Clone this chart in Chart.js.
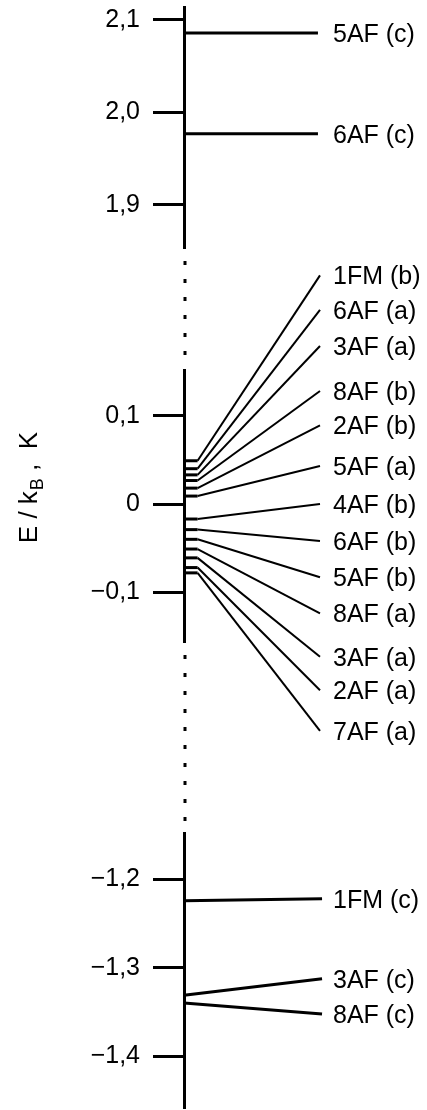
<!DOCTYPE html>
<html>
<head>
<meta charset="utf-8">
<script src="https://cdn.jsdelivr.net/npm/chart.js@4/dist/chart.umd.min.js"></script>
<style>
  body { margin: 0; background: #fff; }
  #wrap { position: relative; width: 427px; height: 1110px; }
</style>
</head>
<body>
<div id="wrap"><canvas id="chart"></canvas></div>
<script>
// energy levels E/kB (K): value at the axis and value at the label end
const topNames = ['5AF (c)', '6AF (c)'];
const topLeft = [2.086, 1.977];
const topRight = [2.086, 1.977];
const topTicks = [2.1, 2.0, 1.9];

const midNames = ['1FM (b)', '6AF (a)', '3AF (a)', '8AF (b)', '2AF (b)', '5AF (a)', '4AF (b)',
  '6AF (b)', '5AF (b)', '8AF (a)', '3AF (a)', '2AF (a)', '7AF (a)'];
const midLeft = [0.049, 0.040, 0.033, 0.0266, 0.018, 0.009, -0.017,
  -0.029, -0.040, -0.051, -0.061, -0.072, -0.078];
const midRight = [0.259, 0.220, 0.179, 0.128, 0.089, 0.043, 0.0,
  -0.042, -0.083, -0.124, -0.173, -0.211, -0.257];
const midTicks = [0.1, 0, -0.1];

const botNames = ['1FM (c)', '3AF (c)', '8AF (c)'];
const botLeft = [-1.2242, -1.3309, -1.3397];
const botRight = [-1.2219, -1.3124, -1.3521];
const botTicks = [-1.2, -1.3, -1.4];

// shown part of each axis piece
const topRange = [1.8535, 2.114];
const midRange = [-0.1563, 0.1518];
const botRange = [-1.4584, -1.1477];

const FONT = '"Liberation Sans", Arial, Helvetica, sans-serif';

function fmt(v) {
  if (v === 0) return '0';
  return v.toFixed(1).replace('.', ',').replace('-', '\u2212');
}

function line(name, pts, axis, width) {
  return {
    label: name,
    data: pts,
    yAxisID: axis,
    borderColor: '#000',
    borderWidth: width,
    borderCapStyle: 'butt',
    pointRadius: 0,
    tension: 0,
    clip: false
  };
}

const datasets = [];
topNames.forEach((n, i) => {
  datasets.push(line(n, [{ x: 0, y: topLeft[i] }, { x: 0.985, y: topRight[i] }], 'yTop', 3));
});
midNames.forEach((n, i) => {
  const ds = line(n, [{ x: 0, y: midLeft[i] }, { x: 0.1, y: midLeft[i] }, { x: 1, y: midRight[i] }], 'yMid', 2);
  ds.segment = { borderWidth: c => (c.p0DataIndex === 0 ? 3 : 2) };
  datasets.push(ds);
});
botNames.forEach((n, i) => {
  datasets.push(line(n, [{ x: 0, y: botLeft[i] }, { x: 1.015, y: botRight[i] }], 'yBot', 3));
});

function axisPiece(range, ticks, weight, order) {
  return {
    type: 'linear',
    position: 'left',
    stack: 'e',
    stackWeight: weight,
    weight: order,
    min: range[0],
    max: range[1],
    afterBuildTicks: s => { s.ticks = ticks.map(v => ({ value: v })); },
    afterFit: s => {
      s.width = 184;
      s.paddingTop = 0;
      s.paddingBottom = 0;
    },
    border: { display: true, color: '#000', width: 3 },
    grid: {
      display: true,
      drawOnChartArea: false,
      drawTicks: true,
      tickLength: 31,
      tickWidth: 3,
      tickColor: '#000'
    },
    ticks: {
      color: '#000',
      padding: 13,
      font: { family: FONT, size: 25 },
      callback: v => fmt(v)
    }
  };
}

function gapPiece(weight, order) {
  return { type: 'linear', position: 'left', stack: 'e', stackWeight: weight, weight: order, display: false };
}

// dotted breaks between the axis pieces
const breakDots = {
  id: 'breakDots',
  afterDraw(chart) {
    const ctx = chart.ctx;
    const x = chart.chartArea.left + 1;
    ctx.save();
    ctx.fillStyle = '#000';
    ['gap1', 'gap2'].forEach(id => {
      const s = chart.scales[id];
      for (let y = s.top + 15; y < s.bottom - 10; y += 18) {
        ctx.fillRect(x - 1.5, y - 2, 3, 4);
      }
    });
    ctx.restore();
  }
};

// level names at the right ends
const levelNames = {
  id: 'levelNames',
  afterDatasetsDraw(chart) {
    const ctx = chart.ctx;
    ctx.save();
    ctx.fillStyle = '#000';
    ctx.font = '25px ' + FONT;
    ctx.textAlign = 'left';
    ctx.textBaseline = 'middle';
    chart.data.datasets.forEach((ds, i) => {
      const pts = chart.getDatasetMeta(i).data;
      const p = pts[pts.length - 1];
      ctx.fillText(ds.label, chart.chartArea.right + 13, p.y + 2);
    });
    ctx.restore();
  }
};

// rotated axis title with subscript
const axisTitle = {
  id: 'axisTitle',
  afterDraw(chart) {
    const ctx = chart.ctx;
    const mid = chart.scales.yMid;
    ctx.save();
    ctx.translate(30, mid.getPixelForValue(0) - 16);
    ctx.rotate(-Math.PI / 2);
    ctx.fillStyle = '#000';
    ctx.textBaseline = 'middle';
    const big = '26px ' + FONT;
    const small = '18px ' + FONT;
    const a = 'E / k', b = 'B', c = ' ,  K';
    ctx.font = big;
    const wa = ctx.measureText(a).width, wc = ctx.measureText(c).width;
    ctx.font = small;
    const wb = ctx.measureText(b).width;
    let x = -(wa + wb + wc) / 2;
    ctx.font = big;
    ctx.fillText(a, x, 0);
    x += wa + 1;
    ctx.font = small;
    ctx.fillText(b, x, 8);
    x += wb;
    ctx.font = big;
    ctx.fillText(c, x, 0);
    ctx.restore();
  }
};

new Chart(document.getElementById('chart'), {
  type: 'line',
  data: { datasets },
  options: {
    responsive: true,
    maintainAspectRatio: false,
    animation: false,
    layout: { padding: { top: 7, bottom: 2, left: 0, right: 107 } },
    plugins: {
      legend: { display: false },
      tooltip: { enabled: false }
    },
    scales: {
      x: { type: 'linear', min: 0, max: 1, display: false },
      yTop: axisPiece(topRange, topTicks, 241, 5),
      gap1: gapPiece(122, 4),
      yMid: axisPiece(midRange, midTicks, 272, 3),
      gap2: gapPiece(191, 2),
      yBot: axisPiece(botRange, botTicks, 275, 1)
    }
  },
  plugins: [breakDots, levelNames, axisTitle]
});
</script>
</body>
</html>
